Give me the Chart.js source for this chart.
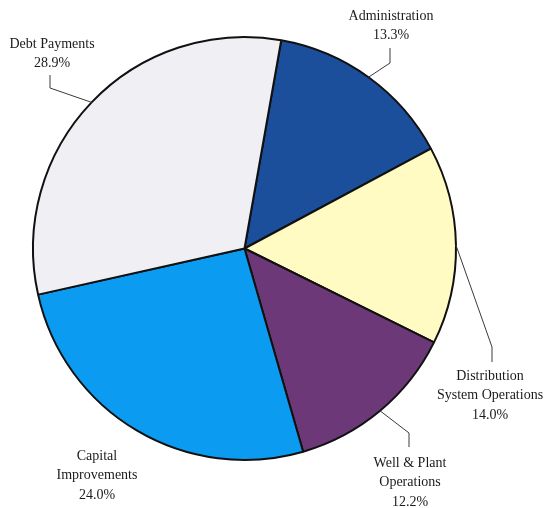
<!DOCTYPE html>
<html>
<head>
<meta charset="utf-8">
<script src="https://cdn.jsdelivr.net/npm/chart.js@4"></script>
<style>
  html, body { margin: 0; padding: 0; background: #fff; }
  #wrap { width: 548px; height: 508px; position: relative; }
</style>
</head>
<body>
<div id="wrap"><canvas id="budgetPie" width="548" height="508"></canvas></div>
<script>
Chart.defaults.animation = false;

// Budget shares (percent)
const categories = ['Administration', 'Distribution System Operations', 'Well & Plant Operations', 'Capital Improvements', 'Debt Payments'];
const shares = [13.3, 14.0, 12.2, 24.0, 28.9];
const sliceColors = ['#1c4f9b', '#fffbc2', '#6c3878', '#0b9cf1', '#f0eff4'];

// Label text lines, anchor (centre x, first line y) and leader elbow for each slice
const labelLines = [
  ['Administration', '13.3%'],
  ['Distribution', 'System Operations', '14.0%'],
  ['Well & Plant', 'Operations', '12.2%'],
  ['Capital', 'Improvements', '24.0%'],
  ['Debt Payments', '28.9%']
];
const labelPos = [[391, 16], [490, 376], [410, 463], [97, 456], [52, 44]];
// [x, start y, elbow y] of the vertical leader piece; null = no leader
const leaderPos = [[390, 48, 63], [492, 362, 347], [409, 447, 433], null, [50, 75, 88]];

const pieLabels = {
  id: 'pieLabels',
  afterDraw(chart) {
    const ctx = chart.ctx;
    const arcs = chart.getDatasetMeta(0).data;
    ctx.save();
    ctx.strokeStyle = '#3a3a3a';
    ctx.lineWidth = 1;
    arcs.forEach((arc, i) => {
      const lp = leaderPos[i];
      if (!lp) return;
      const mid = (arc.startAngle + arc.endAngle) / 2;
      const rx = arc.x + Math.cos(mid) * arc.outerRadius;
      const ry = arc.y + Math.sin(mid) * arc.outerRadius;
      ctx.beginPath();
      ctx.moveTo(lp[0], lp[1]);
      ctx.lineTo(lp[0], lp[2]);
      ctx.lineTo(rx, ry);
      ctx.stroke();
    });
    ctx.fillStyle = '#1a1a1a';
    ctx.font = '14px "Liberation Serif", "Times New Roman", serif';
    ctx.textAlign = 'center';
    ctx.textBaseline = 'middle';
    labelLines.forEach((lines, i) => {
      const [x, y] = labelPos[i];
      lines.forEach((t, k) => ctx.fillText(t, x, y + k * 19.5));
    });
    ctx.restore();
  }
};

new Chart(document.getElementById('budgetPie'), {
  type: 'pie',
  data: {
    labels: categories,
    datasets: [{
      data: shares,
      backgroundColor: sliceColors,
      borderColor: '#111',
      borderWidth: 2
    }]
  },
  options: {
    responsive: false,
    animation: false,
    events: [],
    rotation: 10,
    layout: { padding: { left: 32, right: 91, top: 35, bottom: 46 } },
    plugins: {
      legend: { display: false },
      tooltip: { enabled: false }
    }
  },
  plugins: [pieLabels]
});
</script>
</body>
</html>
